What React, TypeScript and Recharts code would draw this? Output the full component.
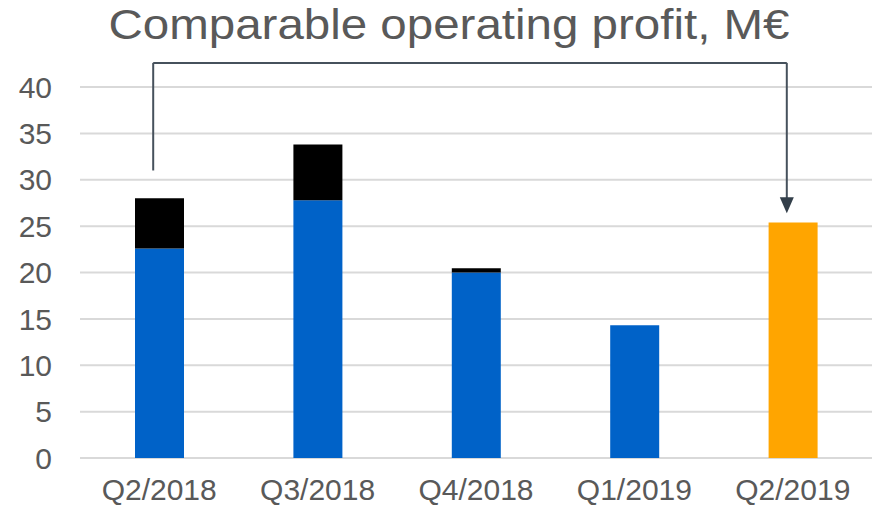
import { Bar, BarChart, CartesianGrid, Cell, ReferenceLine, XAxis, YAxis } from "recharts";

const categories = ["Q2/2018", "Q3/2018", "Q4/2018", "Q1/2019", "Q2/2019"];
const baseValues = [22.6, 27.8, 20.0, 14.3, 25.4];
const itemValues = [5.4, 6.0, 0.45, 0, 0];
const yTicks = [0, 5, 10, 15, 20, 25, 30, 35, 40];

const connectorTop = 42.6;
const connectorStart = 31.0;
const connectorEnd = 26.4;

const font = '"Liberation Sans", Arial, sans-serif';
const textGray = "#595959";
const lineColor = "#46515c";

const data = categories.map((name, i) => ({
  name,
  base: baseValues[i],
  items: itemValues[i],
}));

// connector pieces, nudged a few px left of the bar centre like the original
const segmentShape = (withArrow: boolean) => (props: any) => {
  const { x1, y1, x2, y2 } = props;
  const dx = -6;
  return (
    <g>
      <line
        x1={x1 + dx}
        y1={y1}
        x2={x2 + dx}
        y2={withArrow ? y2 - 14 : y2}
        stroke={lineColor}
        strokeWidth={2}
      />
      {withArrow && (
        <polygon
          points={`${x2 + dx - 7},${y2 - 16} ${x2 + dx + 7},${y2 - 16} ${x2 + dx},${y2}`}
          fill="#333f4a"
        />
      )}
    </g>
  );
};

export default function App() {
  return (
    <div style={{ position: "absolute", left: 0, top: 0, width: 877, height: 509, background: "#fff" }}>
      <svg width={877} height={60} style={{ position: "absolute", left: 0, top: 0 }}>
        <text
          x={449}
          y={39}
          textAnchor="middle"
          fontFamily={font}
          fontSize={42}
          fill={textGray}
          textLength={681}
          lengthAdjust="spacingAndGlyphs"
        >
          Comparable operating profit, M€
        </text>
      </svg>
      <BarChart
        width={877}
        height={509}
        data={data}
        margin={{ top: 87, right: 5, bottom: 0, left: 0 }}
        barSize={49}
      >
        <CartesianGrid vertical={false} stroke="#d9d9d9" strokeWidth={2} />
        <XAxis
          dataKey="name"
          height={51}
          axisLine={false}
          tickLine={false}
          tickSize={0}
          tickMargin={21}
          tick={{ fill: textGray, fontSize: 30, fontFamily: font }}
          interval={0}
        />
        <YAxis
          width={80}
          domain={[0, 40]}
          ticks={yTicks}
          axisLine={false}
          tickLine={false}
          tickSize={0}
          tickMargin={28}
          tick={{ fill: textGray, fontSize: 30, fontFamily: font }}
        />
        <Bar dataKey="base" stackId="a" isAnimationActive={false}>
          {data.map((d, i) => (
            <Cell key={d.name} fill={i === data.length - 1 ? "#ffa500" : "#0062c8"} />
          ))}
        </Bar>
        <Bar dataKey="items" stackId="a" fill="#000000" isAnimationActive={false} />
        <ReferenceLine
          ifOverflow="visible"
          segment={[
            { x: categories[0], y: connectorStart },
            { x: categories[0], y: connectorTop },
          ]}
          shape={segmentShape(false)}
        />
        <ReferenceLine
          ifOverflow="visible"
          segment={[
            { x: categories[0], y: connectorTop },
            { x: categories[4], y: connectorTop },
          ]}
          shape={segmentShape(false)}
        />
        <ReferenceLine
          ifOverflow="visible"
          segment={[
            { x: categories[4], y: connectorTop },
            { x: categories[4], y: connectorEnd },
          ]}
          shape={segmentShape(true)}
        />
      </BarChart>
    </div>
  );
}
